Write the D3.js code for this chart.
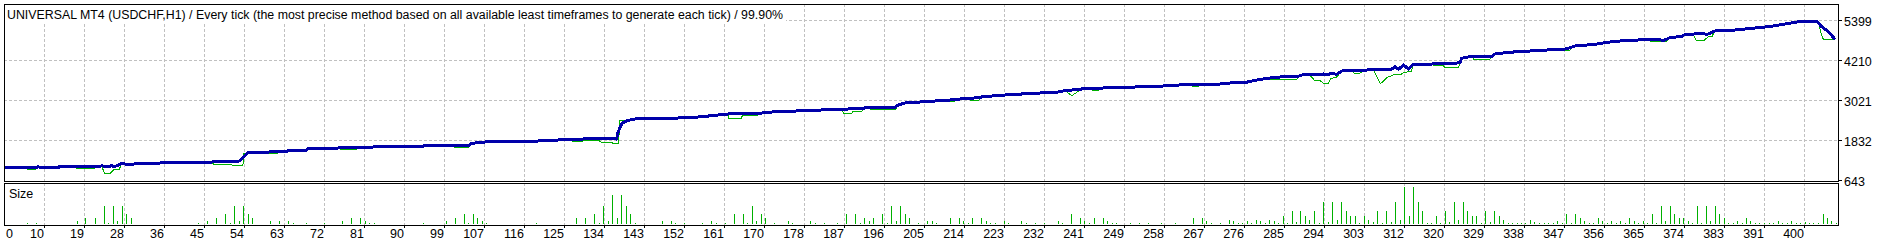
<!DOCTYPE html>
<html>
<head>
<meta charset="UTF-8">
<title>UNIVERSAL MT4 tester graph</title>
<script src="https://cdn.jsdelivr.net/npm/d3@7"></script>
<style>
	body { margin: 0; background: #fff; }
	text { font-family: "Liberation Sans", Arial, sans-serif; font-size: 12.5px; fill: #000; }
</style>
</head>
<body>
<script>

	// chart texts
	var titleText = "UNIVERSAL MT4 (USDCHF,H1) / Every tick (the most precise method based on all available least timeframes to generate each tick) / 99.90%";
	var sizeLabel = "Size";

	// right axis values
	var yTickValues = [643, 1832, 3021, 4210, 5399];

	// bottom axis labels (one per grid line)
	var xTickLabels = ["0", "10", "19", "28", "36", "45", "54", "63", "72", "81", "90", "99", "107", "116", "125", "134",
		"143", "152", "161", "170", "178", "187", "196", "205", "214", "223", "232", "241", "249", "258", "267", "276",
		"285", "294", "303", "312", "320", "329", "338", "347", "356", "365", "374", "383", "391", "400"];

	// balance : [trade number, money]
	var balance = [
		[0,1039],[7.2,1039],[7.5,1069],[8.2,1045],[12.1,1045],[12.3,1069],[21.3,1069],[21.7,1099],[22.5,1075],[23.6,1075],
		[23.8,1099],[24.6,1075],[25.4,1119],[26.1,1168],[27.6,1128],[29.5,1158],[37.3,1188],[46.5,1208],[50.6,1218],[52.3,1238],
		[53.6,1416],[54.3,1485],[55.4,1495],[62.4,1515],[63.6,1555],[67.3,1564],[67.6,1604],[74.3,1624],[82.1,1654],[89.1,1683],
		[93.3,1683],[93.6,1713],[94.6,1688],[103.2,1688],[103.9,1763],[106.9,1802],[115.8,1812],[120.2,1842],[126.1,1882],[134.3,1911],
		[136.1,1891],[136.5,2109],[137.3,2357],[138.7,2446],[140.2,2486],[148.4,2506],[154.3,2545],[157.3,2585],[161,2635],[166.2,2664],
		[167.3,2635],[168.4,2664],[170.6,2694],[174.3,2714],[179.5,2744],[186.2,2773],[191.3,2813],[198,2833],[198.7,2902],[200.2,2962],
		[204.7,3001],[206.9,3021],[209.5,3041],[212.4,3080],[216.5,3120],[217.6,3150],[220.6,3179],[222.4,3199],[226.1,3229],[230.2,3259],
		[233.9,3279],[235.4,3318],[239.5,3378],[244.3,3407],[251.3,3437],[257.6,3467],[261.3,3497],[266.5,3526],[267.6,3497],[270.2,3526],
		[272.4,3556],[275.8,3566],[276.9,3606],[278.4,3645],[281.3,3705],[283.6,3734],[287.6,3754],[288.4,3794],[292.4,3804],[293.2,3824],
		[294.3,3794],[295,3853],[296.1,3814],[297.3,3913],[302.1,3932],[305,3972],[305.8,3942],[306.9,3972],[308,3942],[309.1,4036],
		[309.9,3962],[311,4091],[312.1,3972],[313.2,4111],[321.7,4131],[323.6,4160],[323.9,4289],[325.4,4329],[330.6,4349],[331.3,4418],
		[334.3,4468],[339.1,4507],[346.9,4567],[348,4606],[349.1,4656],[353.6,4706],[357.3,4785],[361,4825],[367.6,4854],[368.7,4815],
		[370.2,4904],[372.8,4943],[373.6,5003],[377.6,5022],[378.4,5003],[379.1,5032],[380.2,5102],[383.9,5122],[386.9,5161],[390.6,5211],
		[392.8,5241],[398,5360],[400.2,5399],[402.8,5399],[403.9,5231],[405.4,5082],[406.9,4854]
	];

	// equity : [trade number, money]
	var equity = [
		[0,1039],[4.9,1039],[5.2,970],[6.8,970],[7.2,1039],[7.5,1069],[8.2,1045],[12.1,1045],[12.3,1069],[15.9,1069],
		[16.2,1000],[20.1,1000],[20.4,1069],[21.3,1069],[21.7,1099],[22.3,871],[23.6,871],[24.3,970],[25.6,970],[26.1,1168],
		[27.6,1128],[29.5,1158],[37.3,1188],[46.3,1188],[46.6,1148],[50.5,1148],[50.8,1109],[53.1,1109],[53.3,1465],[54.3,1485],
		[55.4,1495],[58.3,1495],[58.5,1455],[60.6,1455],[60.9,1497],[62.4,1515],[63.6,1555],[67.3,1564],[67.6,1604],[74.3,1624],
		[74.6,1594],[78.3,1594],[78.6,1627],[82.1,1654],[89.1,1683],[93.3,1683],[93.6,1713],[94.6,1688],[99.8,1688],[100.1,1644],
		[103.2,1644],[103.9,1763],[106.9,1802],[115.8,1812],[120.2,1842],[126,1882],[126.3,1812],[128.4,1812],[129,1852],[132.1,1852],
		[132.6,1802],[135,1802],[135.3,1763],[136.6,1763],[136.8,2427],[138.4,2427],[138.7,2446],[140.2,2486],[148.4,2506],[154.3,2545],
		[157.3,2585],[160.8,2630],[161.1,2506],[163.8,2506],[164.1,2585],[167.3,2585],[167.6,2635],[168.4,2664],[170.6,2694],[174.3,2714],
		[179.5,2744],[186.2,2773],[186.6,2654],[188.4,2654],[188.7,2714],[190.6,2714],[191.3,2813],[192.4,2813],[192.7,2754],[198,2754],
		[198.7,2902],[200.2,2962],[204.7,3001],[206.9,3021],[209.3,3041],[209.6,3011],[211.3,3011],[211.6,3050],[212.4,3080],[214.6,3080],
		[214.8,3041],[216.5,3041],[217.6,3150],[220.6,3179],[222.4,3199],[226.1,3229],[230.2,3259],[233.9,3279],[235.4,3318],[236.1,3300],
		[237.3,3179],[238.4,3279],[239.5,3378],[241.6,3390],[241.8,3338],[243.2,3338],[244.3,3407],[251.3,3437],[257.6,3467],[261.3,3497],
		[263.8,3510],[264,3457],[265.4,3457],[266.5,3526],[267.6,3497],[270.2,3526],[272.4,3556],[275.8,3566],[276.9,3606],[278.4,3645],
		[281.3,3665],[287.3,3665],[287.6,3754],[288.4,3794],[289.8,3794],[290.5,3744],[291.3,3625],[292.5,3625],[293.2,3546],[294.3,3546],
		[294.9,3695],[296,3715],[297.3,3913],[299.8,3925],[300,3843],[301.3,3843],[302.1,3932],[304.3,3950],[305.8,3546],[306.5,3600],
		[307.3,3715],[309,3814],[310.5,3814],[311,3873],[312.7,3893],[313.2,4111],[317.5,4118],[317.7,4071],[319.9,4071],[320.1,4022],
		[323.2,4022],[323.6,4141],[323.9,4289],[325.4,4329],[326.4,4332],[326.6,4269],[330.2,4269],[330.6,4349],[331.3,4418],[334.3,4468],
		[339.1,4507],[346.4,4560],[346.6,4527],[348,4527],[348.3,4620],[349.1,4656],[353.6,4706],[357.3,4785],[361,4825],[365.7,4845],
		[365.9,4785],[369.5,4785],[370.2,4904],[372.8,4943],[373.6,5003],[375.4,5010],[376.1,4805],[377.6,4805],[378.7,4924],[379.5,4924],
		[380.2,5102],[383.9,5122],[386.9,5161],[390.6,5211],[392.8,5241],[398,5360],[400.2,5399],[403.1,5399],[403.9,4983],[404.3,4854],
		[406.9,4854]
	];

	// lot size of each trade : [trade number, lots]
	var lotSizes = [
		[5,.01],[7,.01],[16,.03],[18,.06],[20,.06],[22,.18],[23,.01],[24,.18],[25,.03],[26,.18],[27,.10],[28,.06],
		[43,.01],[45,.03],[47,.06],[49,.10],[50,.01],[51,.18],[52,.03],[53,.18],[54,.10],[55,.06],[59,.03],[61,.03],
		[63,.03],[64,.01],[67,.01],[71,.01],[75,.03],[77,.06],[79,.06],[80,.03],[81,.01],[82,.01],[93,.01],[98,.03],
		[100,.06],[102,.10],[103,.01],[104,.10],[105,.06],[106,.03],[107,.01],[118,.01],[127,.06],[129,.06],[131,.10],[132,.01],
		[133,.18],[134,.03],[135,.29],[136,.06],[137,.29],[138,.18],[139,.10],[140,.01],[146,.03],[148,.03],[149,.01],[151,.01],
		[155,.01],[157,.03],[158,.01],[160,.01],[162,.10],[164,.10],[165,.01],[166,.18],[167,.03],[168,.10],[169,.06],[171,.01],
		[174,.03],[175,.01],[179,.03],[180,.01],[182,.01],[185,.01],[187,.10],[189,.10],[190,.01],[191,.06],[192,.03],[193,.06],
		[195,.10],[196,.01],[197,.18],[198,.03],[199,.18],[200,.10],[201,.06],[203,.01],[205,.03],[206,.03],[207,.01],[210,.06],
		[212,.06],[213,.03],[214,.01],[215,.06],[217,.06],[218,.03],[219,.01],[220,.01],[222,.03],[223,.01],[226,.03],[227,.01],
		[229,.01],[231,.01],[234,.03],[235,.01],[237,.10],[239,.06],[240,.03],[241,.01],[242,.06],[244,.06],[245,.03],[246,.01],
		[247,.01],[250,.01],[252,.01],[254,.01],[257,.01],[260,.01],[264,.06],[266,.06],[267,.03],[268,.01],[270,.01],[272,.04],
		[273,.03],[274,.01],[275,.01],[276,.03],[277,.01],[278,.04],[279,.03],[280,.01],[281,.04],[282,.03],[283,.01],[284,.08],
		[285,.01],[286,.13],[287,.02],[288,.13],[289,.08],[290,.04],[291,.13],[292,.01],[293,.22],[294,.02],[295,.22],[296,.04],
		[297,.22],[298,.13],[299,.08],[300,.08],[301,.01],[302,.08],[303,.04],[304,.02],[305,.13],[306,.01],[307,.13],[308,.02],
		[309,.22],[310,.04],[311,.37],[312,.08],[313,.37],[314,.22],[315,.13],[316,.01],[317,.01],[318,.08],[319,.01],[320,.13],
		[321,.02],[322,.22],[323,.04],[324,.22],[325,.13],[326,.08],[327,.08],[328,.01],[329,.13],[330,.02],[331,.13],[332,.08],
		[333,.04],[334,.01],[335,.01],[336,.01],[337,.01],[338,.01],[339,.04],[340,.02],[341,.01],[342,.01],[343,.01],[344,.01],
		[345,.03],[346,.01],[347,.10],[348,.01],[349,.10],[350,.06],[351,.03],[352,.01],[353,.01],[354,.06],[355,.03],[356,.01],
		[357,.03],[358,.01],[359,.03],[360,.01],[361,.06],[362,.03],[363,.01],[364,.03],[365,.01],[366,.10],[367,.01],[368,.18],
		[369,.03],[370,.18],[371,.10],[372,.06],[373,.06],[374,.03],[375,.01],[376,.18],[377,.01],[378,.18],[379,.03],[380,.18],
		[381,.10],[382,.06],[383,.01],[384,.01],[385,.03],[386,.01],[387,.06],[388,.03],[389,.01],[390,.01],[391,.01],[392,.01],
		[393,.01],[394,.03],[395,.01],[396,.01],[397,.03],[398,.01],[399,.01],[400,.02],[401,.01],[402,.01],[403,.01],[404,.10],
		[405,.06],[406,.03],[407,.01]
	];

	// layout / style settings
	var Settings = {
		width : 1893,
		height : 245,
		main : { left : 4, right : 1838, top : 4, bottom : 181 },
		sub : { top : 183, bottom : 225 },
		gridColor : "#c0c0c0",
		balanceColor : "#0000aa",
		equityColor : "#00b000",
		sizeColor : "#00b000"
	};

	var xTickStep = 400 / 45; // trades between two grid lines

	var svg = d3.select("body").append("svg")
		.attr("width", Settings.width)
		.attr("height", Settings.height)
		.style("display", "block")
		.style("background", "#fff");

	// scales
	var x = d3.scaleLinear().domain([0, 400]).range([4, 1804]);
	var y = d3.scaleLinear().domain([643, 5399]).range([181, 21]);
	var ySize = d3.scaleLinear().domain([0, 0.37]).range([224, 187]);

	var gridX = xTickLabels.map(function (l, i) { return Math.round(x(i * xTickStep)) + 0.5; });

	// grid of the main panel
	var grid = svg.append("g")
		.attr("stroke", Settings.gridColor)
		.attr("stroke-dasharray", "3,2")
		.attr("shape-rendering", "crispEdges")
		.attr("fill", "none");

	grid.selectAll(".hgrid")
		.data(yTickValues.slice(1))
		.enter().append("line")
		.attr("x1", Settings.main.left)
		.attr("x2", Settings.main.right)
		.attr("y1", function (d) { return Math.round(y(d)) - 0.5; })
		.attr("y2", function (d) { return Math.round(y(d)) - 0.5; });

	grid.selectAll(".vgrid")
		.data(gridX.slice(1))
		.enter().append("line")
		.attr("x1", function (d) { return d; })
		.attr("x2", function (d) { return d; })
		.attr("y1", Settings.main.top)
		.attr("y2", Settings.main.bottom);

	grid.selectAll(".vgrid2")
		.data(gridX.slice(1))
		.enter().append("line")
		.attr("x1", function (d) { return d; })
		.attr("x2", function (d) { return d; })
		.attr("y1", Settings.sub.top)
		.attr("y2", Settings.sub.bottom);

	// title with white box
	svg.append("rect")
		.attr("x", 5).attr("y", 5)
		.attr("width", 781).attr("height", 17)
		.attr("fill", "#fff");

	svg.append("text")
		.attr("x", 7)
		.attr("y", 19)
		.attr("textLength", 776)
		.attr("lengthAdjust", "spacingAndGlyphs")
		.text(titleText);

	// lines
	svg.append("clipPath").attr("id", "mainClip")
		.append("rect")
		.attr("x", Settings.main.left).attr("y", Settings.main.top)
		.attr("width", Settings.main.right - Settings.main.left)
		.attr("height", Settings.main.bottom - Settings.main.top);

	var line = d3.line()
		.x(function (d) { return x(d[0]); })
		.y(function (d) { return y(d[1]); });

	var lines = svg.append("g")
		.attr("clip-path", "url(#mainClip)")
		.attr("shape-rendering", "crispEdges");

	lines.append("path")
		.attr("d", line(equity))
		.attr("fill", "none")
		.attr("stroke", Settings.equityColor)
		.attr("stroke-width", 1);

	lines.append("path")
		.attr("d", line(balance))
		.attr("fill", "none")
		.attr("stroke", Settings.balanceColor)
		.attr("stroke-width", 3)
		.attr("stroke-linejoin", "round");

	// size histogram
	svg.append("g")
		.attr("shape-rendering", "crispEdges")
		.selectAll("rect")
		.data(lotSizes)
		.enter().append("rect")
		.attr("x", function (d) { return Math.floor(x(d[0])) + 1; })
		.attr("y", function (d) { return ySize(d[1]); })
		.attr("width", 1)
		.attr("height", function (d) { return ySize(0) - ySize(d[1]); })
		.attr("fill", Settings.sizeColor);

	svg.append("text")
		.attr("x", 9)
		.attr("y", 198)
		.text(sizeLabel);

	// panel frames
	svg.append("rect")
		.attr("x", Settings.main.left + 0.5).attr("y", Settings.main.top + 0.5)
		.attr("width", Settings.main.right - Settings.main.left)
		.attr("height", Settings.main.bottom - Settings.main.top)
		.attr("fill", "none").attr("stroke", "#000");

	svg.append("rect")
		.attr("x", Settings.main.left + 0.5).attr("y", Settings.sub.top + 0.5)
		.attr("width", Settings.main.right - Settings.main.left)
		.attr("height", Settings.sub.bottom - Settings.sub.top)
		.attr("fill", "none").attr("stroke", "#000");

	// right axis
	var yAxis = svg.append("g");
	yAxis.selectAll("line")
		.data(yTickValues)
		.enter().append("line")
		.attr("x1", Settings.main.right + 1)
		.attr("x2", Settings.main.right + 4)
		.attr("y1", function (d) { return Math.round(y(d)) - 0.5; })
		.attr("y2", function (d) { return Math.round(y(d)) - 0.5; })
		.attr("stroke", "#000");
	yAxis.selectAll("text")
		.data(yTickValues)
		.enter().append("text")
		.attr("x", 1844)
		.attr("y", function (d) { return y(d) + 5; })
		.text(function (d) { return d; });

	// bottom axis
	var xAxis = svg.append("g");
	xAxis.selectAll("line")
		.data(gridX.slice(1))
		.enter().append("line")
		.attr("x1", function (d) { return d; })
		.attr("x2", function (d) { return d; })
		.attr("y1", Settings.sub.bottom + 1)
		.attr("y2", Settings.sub.bottom + 3)
		.attr("stroke", "#000");
	xAxis.selectAll("text")
		.data(xTickLabels)
		.enter().append("text")
		.attr("x", function (d, i) { return i === 0 ? 6 : gridX[i] - 0.5; })
		.attr("y", 238)
		.attr("text-anchor", function (d, i) { return i === 0 ? "start" : "end"; })
		.text(function (d) { return d; });

</script>
</body>
</html>
